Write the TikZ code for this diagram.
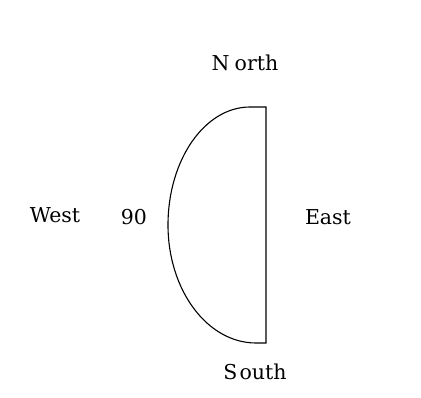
\documentclass[tikz,border=0pt]{standalone}
\usepackage{fontspec}
\setmainfont{DejaVu Serif}
\begin{document}
\begin{tikzpicture}[x=1pt,y=1pt,
  lbl/.style={font=\fontsize{20.5}{22}\selectfont, inner sep=0pt, anchor=center},
  halfdisc/.style={draw=black, line width=1.1pt}]
\useasboundingbox[fill=white] (0,0) rectangle (421,-397);
\draw[halfdisc] (266,-107) -- (250,-107) arc[start angle=90, end angle=180, x radius=82, y radius=118]
  arc[start angle=180, end angle=270, x radius=88, y radius=118] -- (266,-343) -- cycle;
\node[lbl] (north) at (245,-63) {N\hspace{5pt}orth};
\node[lbl] (south) at (255,-372) {S\hspace{2pt}outh};
\node[lbl] (west) at (55,-215) {West};
\node[lbl] (ninety) at (134,-217) {90};
\node[lbl] (east) at (328,-217) {East};
\end{tikzpicture}
\end{document}
